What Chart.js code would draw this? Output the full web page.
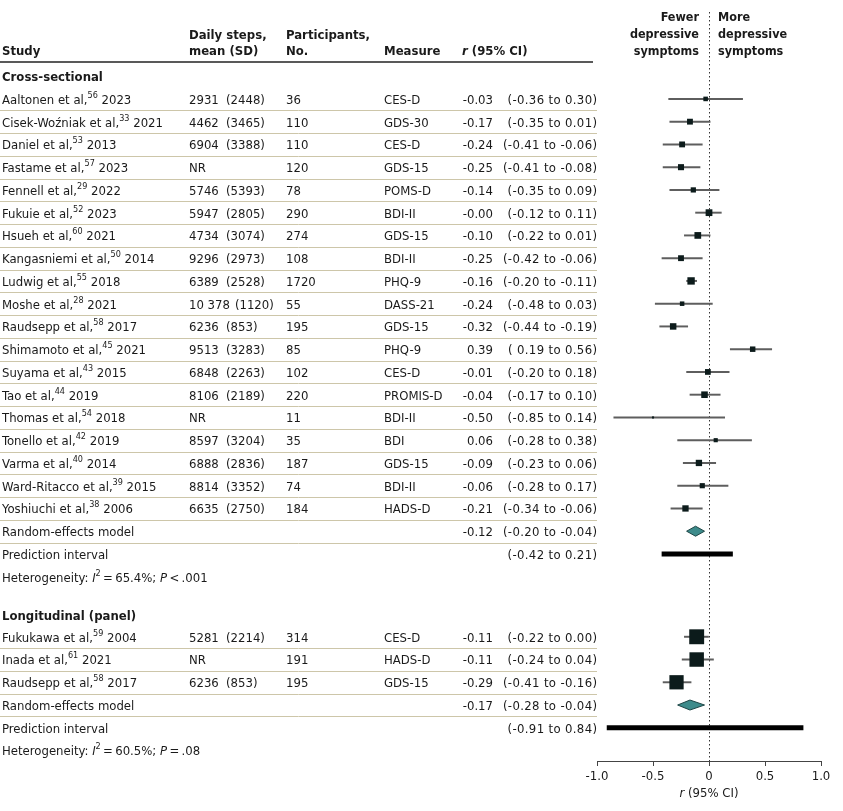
<!DOCTYPE html>
<html>
<head>
<meta charset="utf-8">
<script src="https://cdn.jsdelivr.net/npm/chart.js@4.4.1/dist/chart.umd.min.js"></script>
<style>
  html, body { margin: 0; padding: 0; background: #fff; }
</style>
</head>
<body>
<canvas id="forest" width="843" height="811"></canvas>
<script>
const FONT = '"DejaVu Sans Condensed", "Liberation Sans Narrow", "Open Sans", sans-serif';
const TEXT = '#1a1a1a';
const SIZE = 13;

// cross-sectional studies
const csAuthors = ['Aaltonen et al', 'Cisek-Woźniak et al', 'Daniel et al', 'Fastame et al', 'Fennell et al',
  'Fukuie et al', 'Hsueh et al', 'Kangasniemi et al', 'Ludwig et al', 'Moshe et al', 'Raudsepp et al',
  'Shimamoto et al', 'Suyama et al', 'Tao et al', 'Thomas et al', 'Tonello et al', 'Varma et al',
  'Ward-Ritacco et al', 'Yoshiuchi et al'];
const csRefs = [56, 33, 53, 57, 29, 52, 60, 50, 55, 28, 58, 45, 43, 44, 54, 42, 40, 39, 38];
const csYears = [2023, 2021, 2013, 2023, 2022, 2023, 2021, 2014, 2018, 2021, 2017, 2021, 2015, 2019, 2018, 2019, 2014, 2015, 2006];
const csSteps = [2931, 4462, 6904, null, 5746, 5947, 4734, 9296, 6389, 10378, 6236, 9513, 6848, 8106, null, 8597, 6888, 8814, 6635];
const csStepsSD = [2448, 3465, 3388, null, 5393, 2805, 3074, 2973, 2528, 1120, 853, 3283, 2263, 2189, null, 3204, 2836, 3352, 2750];
const csN = [36, 110, 110, 120, 78, 290, 274, 108, 1720, 55, 195, 85, 102, 220, 11, 35, 187, 74, 184];
const csMeasures = ['CES-D', 'GDS-30', 'CES-D', 'GDS-15', 'POMS-D', 'BDI-II', 'GDS-15', 'BDI-II', 'PHQ-9', 'DASS-21',
  'GDS-15', 'PHQ-9', 'CES-D', 'PROMIS-D', 'BDI-II', 'BDI', 'GDS-15', 'BDI-II', 'HADS-D'];
const csR = [-0.03, -0.17, -0.24, -0.25, -0.14, -0, -0.10, -0.25, -0.16, -0.24, -0.32, 0.39, -0.01, -0.04, -0.50, 0.06, -0.09, -0.06, -0.21];
const csLo = [-0.36, -0.35, -0.41, -0.41, -0.35, -0.12, -0.22, -0.42, -0.20, -0.48, -0.44, 0.19, -0.20, -0.17, -0.85, -0.28, -0.23, -0.28, -0.34];
const csHi = [0.30, 0.01, -0.06, -0.08, 0.09, 0.11, 0.01, -0.06, -0.11, 0.03, -0.19, 0.56, 0.18, 0.10, 0.14, 0.38, 0.06, 0.17, -0.06];
const csWeights = [3.3, 5.4, 5.4, 5.8, 4.3, 7.2, 7.1, 5.4, 8.6, 3.2, 6.6, 4.7, 5.2, 6.8, 0.7, 2.7, 6.3, 4.2, 6.3];
const csPooled = [-0.12, -0.20, -0.04];
const csPredInt = [-0.42, 0.21];
const csHet = ['65.4%', '< .001'];

// longitudinal (panel) studies
const lgAuthors = ['Fukukawa et al', 'Inada et al', 'Raudsepp et al'];
const lgRefs = [59, 61, 58];
const lgYears = [2004, 2021, 2017];
const lgSteps = [5281, null, 6236];
const lgStepsSD = [2214, null, 853];
const lgN = [314, 191, 195];
const lgMeasures = ['CES-D', 'HADS-D', 'GDS-15'];
const lgR = [-0.11, -0.11, -0.29];
const lgLo = [-0.22, -0.24, -0.41];
const lgHi = [0.00, 0.04, -0.16];
const lgWeights = [35, 33, 32];
const lgPooled = [-0.17, -0.28, -0.04];
const lgPredInt = [-0.91, 0.84];
const lgHet = ['60.5%', '= .08'];

const xTicks = [-1, -0.5, 0, 0.5, 1];
const xTickLabels = ['-1.0', '-0.5', '0', '0.5', '1.0'];

// row layout (in row units, 0 = first section heading)
function layoutSection(headAt, headGap, n) {
  const rows = [];
  for (let i = 0; i < n; i++) rows.push(headAt + headGap + i);
  const re = rows[n - 1] + 1;
  return { head: headAt, rows, re, pi: re + 1, het: re + 2 };
}
const secCS = layoutSection(0, 1, csAuthors.length);
const secLG = layoutSection(secCS.het + 1.7, 0.94, lgAuthors.length);

const sections = [
  { title: 'Cross-sectional', lay: secCS, authors: csAuthors, refs: csRefs, years: csYears, steps: csSteps, sd: csStepsSD,
    n: csN, measures: csMeasures, r: csR, lo: csLo, hi: csHi, w: csWeights, pooled: csPooled, pi: csPredInt, het: csHet },
  { title: 'Longitudinal (panel)', lay: secLG, authors: lgAuthors, refs: lgRefs, years: lgYears, steps: lgSteps, sd: lgStepsSD,
    n: lgN, measures: lgMeasures, r: lgR, lo: lgLo, hi: lgHi, w: lgWeights, pooled: lgPooled, pi: lgPredInt, het: lgHet },
];

function fmtR(v) {
  if (Object.is(v, -0)) return '-0.00';
  return v.toFixed(2);
}
function fmtSteps(v) {
  const s = String(v);
  return s.length > 4 ? s.slice(0, s.length - 3) + ' ' + s.slice(-3) : s;
}

// datasets
const squarePts = [], squareRadius = [], ciBars = [], piBars = [];
sections.forEach(sec => {
  sec.r.forEach((v, i) => {
    squarePts.push({ x: v, y: sec.lay.rows[i] });
    squareRadius.push(Math.sqrt(sec.w[i]) * 2.52 / Math.SQRT2);
    ciBars.push({ x: [sec.lo[i], sec.hi[i]], y: sec.lay.rows[i] });
  });
  piBars.push({ x: sec.pi, y: sec.lay.pi });
});

// text helpers
function fontStr(p, size) {
  return `${p.i ? 'italic ' : ''}${p.b ? 'bold ' : ''}${p.sup ? Math.round(size * 0.7) : size}px ${FONT}`;
}
function drawRich(ctx, parts, x, y, align, size) {
  size = size || SIZE;
  let total = 0;
  parts.forEach(p => { ctx.font = fontStr(p, size); total += ctx.measureText(p.t).width; });
  let cx = align === 'right' ? x - total : align === 'center' ? x - total / 2 : x;
  ctx.textAlign = 'left';
  ctx.textBaseline = 'middle';
  parts.forEach(p => {
    ctx.font = fontStr(p, size);
    ctx.fillText(p.t, cx, p.sup ? y - 5 : y);
    cx += ctx.measureText(p.t).width;
  });
}
function txt(ctx, t, x, y, align, bold, size) {
  drawRich(ctx, [{ t, b: bold }], x, y, align, size);
}
// CI strings are set a touch wider to fill the column like the original
function ci(ctx, t, x, y) {
  ctx.letterSpacing = '0.35px';
  drawRich(ctx, [{ t }], x + 0.35, y, 'right');
  ctx.letterSpacing = '0px';
}

const COL = { study: 2, steps: 189, sd: 226, n: 286, measure: 384, est: 493, ci: 597 };
const TABLE_RIGHT = 597;

const tablePlugin = {
  id: 'table',
  beforeDatasetsDraw(chart) {
    const { ctx, chartArea, scales: { x, y } } = chart;
    ctx.save();
    // row separators
    ctx.strokeStyle = '#cdc6a9';
    ctx.lineWidth = 1;
    sections.forEach(sec => {
      sec.lay.rows.concat([sec.lay.re]).forEach(r => {
        const py = Math.round(y.getPixelForValue(r + 0.5)) + 0.5;
        ctx.beginPath(); ctx.moveTo(0, py); ctx.lineTo(TABLE_RIGHT, py); ctx.stroke();
      });
    });
    // header rule
    ctx.strokeStyle = '#222';
    ctx.lineWidth = 1.5;
    ctx.beginPath(); ctx.moveTo(0, chartArea.top + 50); ctx.lineTo(TABLE_RIGHT - 4, chartArea.top + 50); ctx.stroke();
    // null line
    const zx = Math.round(x.getPixelForValue(0)) + 0.5;
    ctx.strokeStyle = '#333';
    ctx.lineWidth = 1;
    ctx.setLineDash([1.5, 2.5]);
    ctx.beginPath(); ctx.moveTo(zx, chartArea.top); ctx.lineTo(zx, chartArea.bottom); ctx.stroke();
    ctx.restore();
  },
  afterDatasetsDraw(chart) {
    const { ctx, scales: { x, y } } = chart;
    ctx.save();
    sections.forEach(sec => {
      const [est, lo, hi] = sec.pooled;
      const py = y.getPixelForValue(sec.lay.re);
      ctx.beginPath();
      ctx.moveTo(x.getPixelForValue(lo), py);
      ctx.lineTo(x.getPixelForValue(est), py - 5);
      ctx.lineTo(x.getPixelForValue(hi), py);
      ctx.lineTo(x.getPixelForValue(est), py + 5);
      ctx.closePath();
      ctx.fillStyle = '#3d8b8b';
      ctx.fill();
      ctx.strokeStyle = '#1d4545';
      ctx.lineWidth = 1;
      ctx.stroke();
    });
    ctx.restore();
  },
  afterDraw(chart) {
    const { ctx, chartArea, scales: { x, y } } = chart;
    ctx.save();
    ctx.fillStyle = TEXT;
    const top = chartArea.top;
    // column headings
    txt(ctx, 'Study', COL.study, top + 40, 'left', true);
    txt(ctx, 'Daily steps,', COL.steps, top + 24, 'left', true);
    txt(ctx, 'mean (SD)', COL.steps, top + 40, 'left', true);
    txt(ctx, 'Participants,', COL.n, top + 24, 'left', true);
    txt(ctx, 'No.', COL.n, top + 40, 'left', true);
    txt(ctx, 'Measure', COL.measure, top + 40, 'left', true);
    drawRich(ctx, [{ t: 'r', b: true, i: true }, { t: ' (95% CI)', b: true }], COL.est - 31, top + 40, 'left');
    // direction labels
    const zx = x.getPixelForValue(0);
    ['Fewer', 'depressive', 'symptoms'].forEach((t, i) => txt(ctx, t, zx - 10, top + 6 + i * 17, 'right', true, 12.5));
    ['More', 'depressive', 'symptoms'].forEach((t, i) => txt(ctx, t, zx + 9, top + 6 + i * 17, 'left', true, 12.5));

    const ty = v => y.getPixelForValue(v) + 1.5;
    sections.forEach(sec => {
      const L = sec.lay;
      txt(ctx, sec.title, COL.study, ty(L.head), 'left', true);
      sec.authors.forEach((a, i) => {
        const py = ty(L.rows[i]);
        drawRich(ctx, [{ t: a + ',' }, { t: String(sec.refs[i]), sup: true }, { t: ' ' + sec.years[i] }], COL.study, py, 'left');
        if (sec.steps[i] === null) {
          txt(ctx, 'NR', COL.steps, py, 'left');
        } else {
          const m = fmtSteps(sec.steps[i]);
          txt(ctx, m, COL.steps, py, 'left');
          ctx.font = `${SIZE}px ${FONT}`;
          const sx = Math.max(COL.sd, COL.steps + ctx.measureText(m).width + 5);
          txt(ctx, '(' + sec.sd[i] + ')', sx, py, 'left');
        }
        txt(ctx, String(sec.n[i]), COL.n, py, 'left');
        txt(ctx, sec.measures[i], COL.measure, py, 'left');
        txt(ctx, fmtR(sec.r[i]), COL.est, py, 'right');
        const lo = sec.lo[i] > 0 ? ' ' + fmtR(sec.lo[i]) : fmtR(sec.lo[i]);
        ci(ctx, `(${lo} to ${fmtR(sec.hi[i])})`, COL.ci, py);
      });
      txt(ctx, 'Random-effects model', COL.study, ty(L.re), 'left');
      txt(ctx, fmtR(sec.pooled[0]), COL.est, ty(L.re), 'right');
      ci(ctx, `(${fmtR(sec.pooled[1])} to ${fmtR(sec.pooled[2])})`, COL.ci, ty(L.re));
      txt(ctx, 'Prediction interval', COL.study, ty(L.pi), 'left');
      ci(ctx, `(${fmtR(sec.pi[0])} to ${fmtR(sec.pi[1])})`, COL.ci, ty(L.pi));
      drawRich(ctx, [{ t: 'Heterogeneity: ' }, { t: 'I', i: true }, { t: '2', sup: true },
        { t: '\u2009=\u2009' + sec.het[0] + '; ' }, { t: 'P', i: true }, { t: '\u2009' + sec.het[1].replace(' ', '\u2009') }],
        COL.study, ty(L.het), 'left');
    });
    // axis title
    drawRich(ctx, [{ t: 'r', i: true }, { t: ' (95% CI)' }], (chartArea.left + chartArea.right) / 2, chartArea.bottom + 33, 'center');
    ctx.restore();
  }
};

new Chart(document.getElementById('forest'), {
  type: 'scatter',
  data: {
    datasets: [
      {
        type: 'scatter',
        data: squarePts,
        pointStyle: 'rect',
        pointRadius: squareRadius,
        pointBorderWidth: 0,
        backgroundColor: '#0c1b1b',
        order: 0,
      },
      {
        type: 'bar',
        indexAxis: 'y',
        data: ciBars,
        backgroundColor: '#5e5e5e',
        barThickness: 1.3,
        grouped: false,
        order: 1,
      },
      {
        type: 'bar',
        indexAxis: 'y',
        data: piBars,
        backgroundColor: '#000',
        barThickness: 4.5,
        grouped: false,
        order: 1,
      },
    ],
  },
  options: {
    responsive: false,
    animation: false,
    events: [],
    layout: { padding: { left: 597, right: 22, top: 12, bottom: 0 } },
    plugins: { legend: { display: false }, tooltip: { enabled: false } },
    scales: {
      x: {
        type: 'linear',
        min: -1,
        max: 1,
        offset: false,
        afterBuildTicks: s => { s.ticks = xTicks.map(v => ({ value: v })); },
        afterFit: s => { s.height = 50; },
        ticks: {
          callback: (v) => xTickLabels[xTicks.indexOf(v)],
          font: { family: FONT, size: 13 },
          color: TEXT,
          padding: 3,
          maxRotation: 0,
        },
        grid: { drawOnChartArea: false, drawTicks: true, tickLength: 5, color: '#444', offset: false },
        border: { display: true, color: '#444', width: 1 },
      },
      y: {
        type: 'linear',
        display: false,
        reverse: true,
        offset: false,
        grid: { offset: false },
        min: -2.82,
        max: 30.1,
      },
    },
  },
  plugins: [tablePlugin],
});
</script>
</body>
</html>
